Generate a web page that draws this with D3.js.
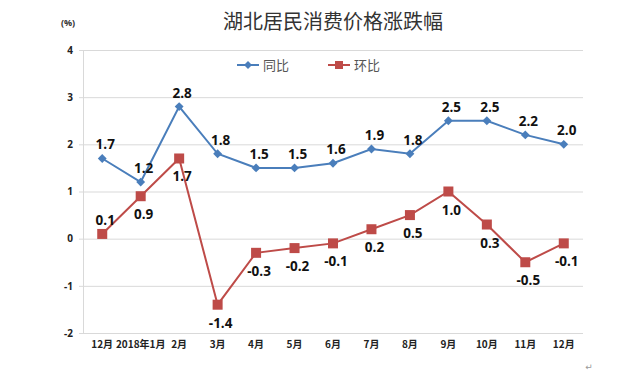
<!DOCTYPE html>
<html>
<head>
<meta charset="utf-8">
<script src="https://cdn.jsdelivr.net/npm/d3@7"></script>
<style>
  body { margin: 0; background: #fff; }
  svg { display: block; }
</style>
</head>
<body>
<div id="chart"></div>
<script>
// month labels along the x axis
var months = ["12月", "2018年1月", "2月", "3月", "4月", "5月", "6月", "7月", "8月", "9月", "10月", "11月", "12月"]
// year-on-year change (%)
var tongbi = [1.7, 1.2, 2.8, 1.8, 1.5, 1.5, 1.6, 1.9, 1.8, 2.5, 2.5, 2.2, 2.0]
// month-on-month change (%)
var huanbi = [0.1, 0.9, 1.7, -1.4, -0.3, -0.2, -0.1, 0.2, 0.5, 1.0, 0.3, -0.5, -0.1]
var yTicks = [-2, -1, 0, 1, 2, 3, 4]

;(function() {
  var
    W = 640, H = 380,
    LEFT = 83, RIGHT = 583, TOP = 50, BOTTOM = 333,
    BLUE = "#4a7ebb", RED = "#be4b48",
    GRID = "#d9d9d9",
    NUM_FONT = "'Open Sans', 'DejaVu Sans', sans-serif",
    CJK_FONT = "'Noto Sans CJK SC', sans-serif"

  var svg = d3.select("#chart").append("svg")
    .attr("width", W).attr("height", H)

  var x = d3.scaleBand().domain(d3.range(months.length)).range([LEFT, RIGHT])
  var y = d3.scaleLinear().domain([-2, 4]).range([BOTTOM, TOP])
  var cx = function(i) { return x(i) + x.bandwidth() / 2 }

  // title + unit
  svg.append("text")
    .attr("x", 333).attr("y", 29)
    .attr("text-anchor", "middle")
    .attr("font-family", CJK_FONT).attr("font-size", 20)
    .attr("fill", "#333")
    .text("湖北居民消费价格涨跌幅")

  svg.append("text")
    .attr("x", 68).attr("y", 26)
    .attr("text-anchor", "middle")
    .attr("font-family", NUM_FONT).attr("font-size", 9).attr("font-weight", "bold")
    .attr("fill", "#333")
    .text("(%)")

  // gridlines + y ticks (plain hyphen for negatives, like the source)
  var yAxis = d3.axisLeft(y).tickValues(yTicks).tickFormat(function(d) { return String(d) })
    .tickSize(-(RIGHT - LEFT)).tickPadding(10)
  var gy = svg.append("g")
    .attr("transform", "translate(" + LEFT + ",0)")
    .call(yAxis)
  gy.select(".domain").attr("stroke", GRID)
  gy.selectAll(".tick line").attr("stroke", GRID).attr("x1", -4).attr("stroke-width", 1)
  gy.selectAll(".tick text")
    .attr("font-family", NUM_FONT).attr("font-size", 10).attr("font-weight", "bold")
    .attr("fill", "#222")

  // x axis labels
  var gx = svg.append("g")
    .attr("transform", "translate(0," + BOTTOM + ")")
    .call(d3.axisBottom(x).tickFormat(function(i) { return months[i] }).tickSize(0).tickPadding(8))
  gx.select(".domain").remove()
  gx.selectAll(".tick text")
    .attr("font-family", CJK_FONT).attr("font-size", 10).attr("font-weight", "bold")
    .attr("fill", "#222")

  var line = d3.line()
    .x(function(d, i) { return cx(i) })
    .y(function(d) { return y(d) })

  // 同比 series
  svg.append("path")
    .datum(tongbi)
    .attr("d", line)
    .attr("fill", "none").attr("stroke", BLUE).attr("stroke-width", 2)

  svg.selectAll(".tb-pt")
    .data(tongbi).enter()
    .append("path")
    .attr("class", "tb-pt")
    .attr("d", d3.symbol(d3.symbolDiamond2, 50))
    .attr("transform", function(d, i) { return "translate(" + cx(i) + "," + y(d) + ")" })
    .attr("fill", BLUE)

  // 环比 series
  svg.append("path")
    .datum(huanbi)
    .attr("d", line)
    .attr("fill", "none").attr("stroke", RED).attr("stroke-width", 2)

  svg.selectAll(".hb-pt")
    .data(huanbi).enter()
    .append("rect")
    .attr("class", "hb-pt")
    .attr("x", function(d, i) { return cx(i) - 5 })
    .attr("y", function(d) { return y(d) - 5 })
    .attr("width", 10).attr("height", 10)
    .attr("fill", RED)

  // data labels
  function labels(data, cls, place) {
    svg.selectAll("." + cls)
      .data(data).enter()
      .append("text")
      .attr("class", cls)
      .attr("x", function(d, i) { return cx(i) + 3 })
      .attr("y", function(d, i) { return y(d) + place(i) })
      .attr("text-anchor", "middle")
      .attr("font-family", NUM_FONT).attr("font-size", 13.5).attr("font-weight", "bold")
      .attr("fill", "#111")
      .text(function(d) { return d.toFixed(1) })
  }
  labels(tongbi, "tb-lab", function() { return -9 })
  labels(huanbi, "hb-lab", function(i) { return i === 0 ? -9 : 23 })

  // legend
  var lg = svg.append("g").attr("transform", "translate(0,65)")
  lg.append("line").attr("x1", 237).attr("x2", 259).attr("stroke", BLUE).attr("stroke-width", 2)
  lg.append("path").attr("d", d3.symbol(d3.symbolDiamond2, 40)).attr("transform", "translate(248,0)").attr("fill", BLUE)
  lg.append("text").attr("x", 263).attr("y", 5)
    .attr("font-family", CJK_FONT).attr("font-size", 13).attr("fill", "#555").text("同比")
  lg.append("line").attr("x1", 328).attr("x2", 350).attr("stroke", RED).attr("stroke-width", 2)
  lg.append("rect").attr("x", 335).attr("y", -4).attr("width", 8).attr("height", 8).attr("fill", RED)
  lg.append("text").attr("x", 354).attr("y", 5)
    .attr("font-family", CJK_FONT).attr("font-size", 13).attr("fill", "#555").text("环比")

  // stray paragraph mark from the source document
  svg.append("text")
    .attr("x", 589).attr("y", 370)
    .attr("text-anchor", "middle")
    .attr("font-family", NUM_FONT).attr("font-size", 9).attr("fill", "#999")
    .text("↵")
})()
</script>
</body>
</html>
